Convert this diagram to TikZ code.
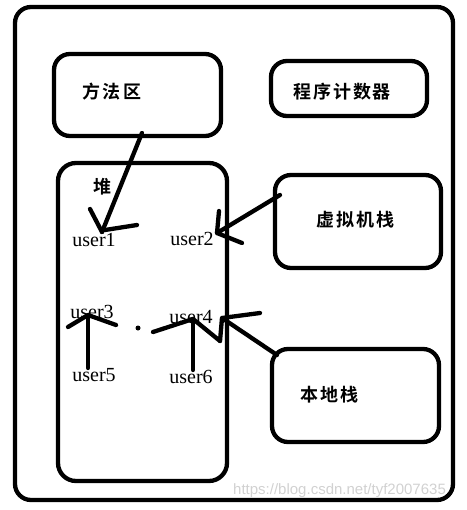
\documentclass[tikz,border=0pt]{standalone}
\usepackage{fontspec}
\setmainfont{Liberation Serif}
\newfontfamily\cjk{Noto Sans CJK SC}[BoldFont={Noto Sans CJK SC Bold}]
\newfontfamily\wmfont{Liberation Sans}
\tikzset{
  box/.style={draw=black,line width=4.3pt,rounded corners=16pt},
  pen/.style={draw=black,line width=4.3pt,line cap=round,line join=round},
  cjklabel/.style={font=\cjk\bfseries\fontsize{18}{18}\selectfont,inner sep=0pt},
  userlabel/.style={font=\fontsize{20}{20}\selectfont,inner sep=0pt},
}
\begin{document}
\begin{tikzpicture}[x=1pt,y=-1pt]
\useasboundingbox (0,0) rectangle (466,510);
% boxes
\draw[box] (15,7) rectangle (453,500);
\draw[box] (54,54) rectangle (221,136);
\draw[box] (271,61) rectangle (427,116);
\draw[box,rounded corners=18pt] (58,163) rectangle (227,481);
\draw[box] (275,175) rectangle (441,268);
\draw[box] (272,349) rectangle (439,442);
% named anchors
\coordinate (mA) at (142,133);
\coordinate (vA) at (280,195);
\coordinate (bA) at (277,355);
% labels
\node[cjklabel] (ff) at (112,92) {方\kern3pt 法\kern3pt 区};
\node[cjklabel] (pc) at (342,92) {程\kern2pt 序\kern2pt 计\kern2pt 数\kern2pt 器};
\node[cjklabel] (dui) at (102,187) {堆};
\node[cjklabel] (vm) at (355,220) {虚\kern2pt 拟\kern2pt 机\kern2pt 栈};
\node[cjklabel] (bd) at (329,395) {本\kern2pt 地\kern2pt 栈};
\node[userlabel] (u1) at (94,240) {user1};
\node[userlabel] (u2) at (192,239) {user2};
\node[userlabel] (u3) at (92,312) {user3};
\node[userlabel] (u4) at (191,317) {user4};
\node[userlabel] (u5) at (94,375) {user5};
\node[userlabel] (u6) at (191,377) {user6};
% tips
\coordinate (t1) at (102,232);
\coordinate (t2) at (217,233);
\coordinate (t3) at (88,315);
\coordinate (t4) at (193,319);
\coordinate (t5) at (222,318);
\coordinate (s5) at (88,368);
\coordinate (s6) at (193,370);
% arrow 1: method area -> user1
\draw[pen] (mA) -- (t1);
\draw[pen] (90,209) -- (t1);
\draw[pen] (105,230) -- (137,225);
% arrow 2: vm stack -> user2
\draw[pen] (vA) -- (t2);
\draw[pen] (219,211) -- (t2) -- (242,243);
% arrow 3: user5 -> user3
\draw[pen] (s5) -- (t3);
\draw[pen] (68,327) -- (t3) -- (116,325);
% arrow 4: user6 -> user4
\draw[pen] (s6) -- (t4);
\draw[pen] (153,332) -- (t4) -- (220,341);
% arrow 5: native stack -> user4
\draw[pen] (bA) -- (t5);
\draw[pen] (260,313) -- (t5) -- (220,341);
% dot
\fill (138,328) circle (2.5pt);
% watermark
\node[font=\wmfont\fontsize{15}{15}\selectfont,text=black!18,anchor=west,inner sep=0pt] (wm) at (233,491) {https://blog.csdn.net/tyf2007635};
\end{tikzpicture}
\end{document}
